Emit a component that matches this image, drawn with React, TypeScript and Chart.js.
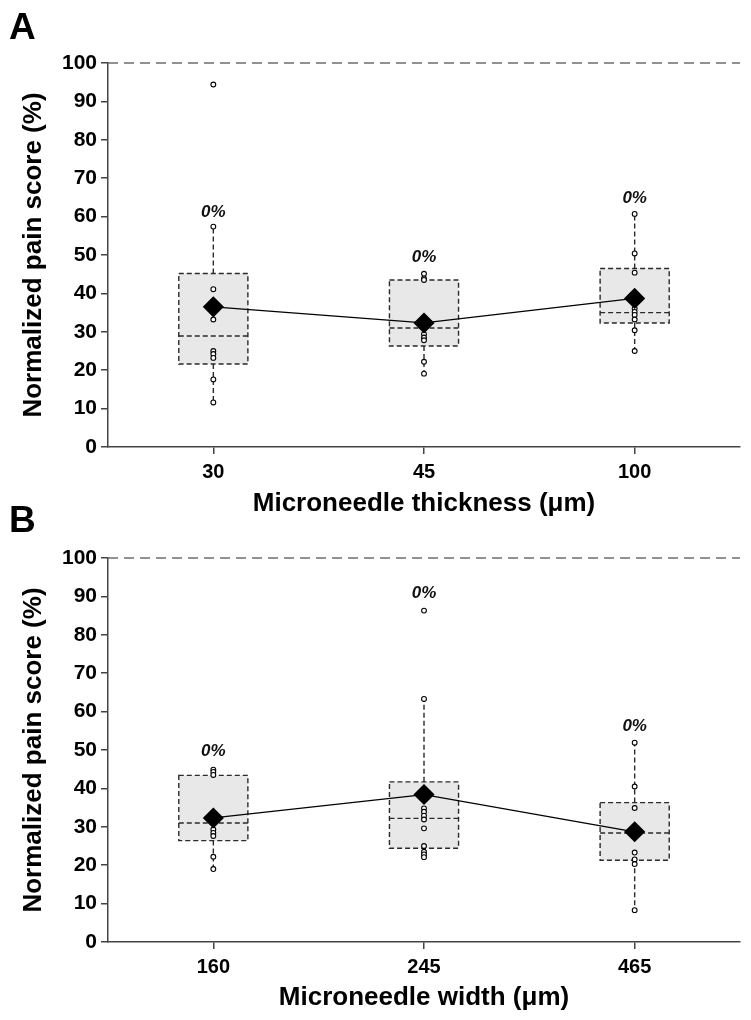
import React, { useEffect, useRef } from 'react';
import { Chart, registerables } from 'chart.js';

Chart.register(...registerables);

const FONT = "'Liberation Sans', Arial, Helvetica, sans-serif";

// ---------- Panel A: microneedle thickness ----------
const thicknessCategories = ['30', '45', '100'];
const thicknessQ1 = [21.6, 26.3, 32.3];
const thicknessMedian = [28.9, 31.0, 35.0];
const thicknessQ3 = [45.2, 43.5, 46.5];
const thicknessWhiskerLow = [11.6, 19.1, 25.0];
const thicknessWhiskerHigh = [57.4, 45.1, 60.7];
const thicknessMean = [36.5, 32.3, 38.7];
const thicknessPoints30 = [94.4, 57.4, 41.1, 33.2, 25.0, 24.2, 23.2, 17.6, 11.6];
const thicknessPoints45 = [45.1, 43.9, 43.5, 29.4, 28.5, 27.8, 22.2, 19.1];
const thicknessPoints100 = [60.7, 50.4, 45.4, 36.1, 35.2, 34.4, 33.2, 30.4, 25.0];
const thicknessPercentText = ['0%', '0%', '0%'];
const thicknessPercentAt = [61.0, 49.4, 64.8];

// ---------- Panel B: microneedle width ----------
const widthCategories = ['160', '245', '465'];
const widthQ1 = [26.4, 24.4, 21.3];
const widthMedian = [31.0, 32.2, 28.4];
const widthQ3 = [43.4, 41.7, 36.3];
const widthWhiskerLow = [19.0, 22.1, 8.3];
const widthWhiskerHigh = [44.9, 63.3, 51.9];
const widthMean = [32.3, 38.4, 28.7];
const widthPoints160 = [44.9, 44.3, 43.5, 29.3, 28.4, 27.6, 22.2, 19.0];
const widthPoints245 = [86.3, 63.3, 34.8, 33.9, 32.9, 31.9, 29.6, 25.0, 23.5, 22.8, 22.1];
const widthPoints465 = [51.9, 40.5, 34.9, 23.3, 21.5, 20.3, 8.3];
const widthPercentText = ['0%', '0%', '0%'];
const widthPercentAt = [49.7, 90.9, 56.1];

const yTicksMin = 0;
const yTicksMax = 100;
const yTickStep = 10;
const referenceLineValue = 100;

type PanelProps = {
  categories: string[];
  q1: number[];
  median: number[];
  q3: number[];
  wLow: number[];
  wHigh: number[];
  mean: number[];
  points: number[][];
  pctText: string[];
  pctAt: number[];
  xTitle: string;
  height: number;
  top: number;
  padTop: number;
  xScaleHeight: number;
  titlePadBottom: number;
};

function Panel(p: PanelProps) {
  const ref = useRef<HTMLCanvasElement | null>(null);
  useEffect(() => {
    if (!ref.current) return;
    const boxPlugin = {
      id: 'boxes',
      beforeDatasetsDraw(chart: any) {
        const ctx = chart.ctx;
        const xs = chart.scales.x;
        const ys = chart.scales.y;
        const area = chart.chartArea;
        const band = (xs.right - xs.left) / p.categories.length;
        const half = band * 0.164;
        ctx.save();
        // reference dashed line
        ctx.setLineDash([10, 6]);
        ctx.strokeStyle = '#6e6e6e';
        ctx.lineWidth = 1.5;
        const yr = ys.getPixelForValue(referenceLineValue);
        ctx.beginPath();
        ctx.moveTo(area.left, yr);
        ctx.lineTo(area.right, yr);
        ctx.stroke();
        for (let i = 0; i < p.categories.length; i++) {
          const cx = xs.getPixelForValue(i);
          const top = ys.getPixelForValue(p.q3[i]);
          const bot = ys.getPixelForValue(p.q1[i]);
          const med = ys.getPixelForValue(p.median[i]);
          const hi = ys.getPixelForValue(p.wHigh[i]);
          const lo = ys.getPixelForValue(p.wLow[i]);
          ctx.setLineDash([]);
          ctx.fillStyle = '#e8e8e8';
          ctx.fillRect(cx - half, top, 2 * half, bot - top);
          ctx.setLineDash([5, 3]);
          ctx.strokeStyle = '#2a2a2a';
          ctx.lineWidth = 1.4;
          ctx.strokeRect(cx - half, top, 2 * half, bot - top);
          ctx.beginPath();
          ctx.moveTo(cx - half, med);
          ctx.lineTo(cx + half, med);
          ctx.moveTo(cx, top);
          ctx.lineTo(cx, hi);
          ctx.moveTo(cx, bot);
          ctx.lineTo(cx, lo);
          ctx.stroke();
        }
        ctx.restore();
      },
      afterDatasetsDraw(chart: any) {
        const ctx = chart.ctx;
        const xs = chart.scales.x;
        const ys = chart.scales.y;
        ctx.save();
        ctx.font = `italic bold 17px ${FONT}`;
        ctx.fillStyle = '#111';
        ctx.textAlign = 'center';
        ctx.textBaseline = 'middle';
        for (let i = 0; i < p.categories.length; i++) {
          ctx.fillText(p.pctText[i], xs.getPixelForValue(i), ys.getPixelForValue(p.pctAt[i]));
        }
        ctx.restore();
      },
    };

    const scatter: { x: string; y: number }[] = [];
    p.points.forEach((arr, i) => arr.forEach((v) => scatter.push({ x: p.categories[i], y: v })));

    const chart = new Chart(ref.current, {
      type: 'line',
      data: {
        labels: p.categories,
        datasets: [
          {
            label: 'Mean',
            data: p.mean,
            borderColor: '#000',
            borderWidth: 1.2,
            pointStyle: 'rectRot',
            pointRadius: 9.5,
            pointBackgroundColor: '#000',
            pointBorderColor: '#000',
            pointBorderWidth: 1.5,
            tension: 0,
            order: 0,
          } as any,
          {
            label: 'Scores',
            data: scatter as any,
            showLine: false,
            pointStyle: 'circle',
            pointRadius: 2.4,
            pointBackgroundColor: '#fff',
            pointBorderColor: '#000',
            pointBorderWidth: 1.1,
            order: 1,
          } as any,
        ],
      },
      options: {
        animation: false,
        responsive: false,
        layout: { padding: { top: p.padTop, right: 10, left: 0, bottom: 0 } },
        plugins: { legend: { display: false }, tooltip: { enabled: false } },
        scales: {
          x: {
            type: 'category',
            offset: true,
            grid: {
              display: true,
              drawOnChartArea: false,
              drawTicks: true,
              tickLength: 7,
              color: '#444',
              lineWidth: 1.5,
              offset: false,
            },
            border: { display: true, color: '#444', width: 1.5 },
            ticks: { font: { family: FONT, size: 20, weight: 'bold' }, color: '#000', padding: 6 },
            title: {
              display: true,
              text: p.xTitle,
              font: { family: FONT, size: 26, weight: 'bold' },
              color: '#000',
              padding: { top: 0, bottom: p.titlePadBottom },
            },
            afterFit: (s: any) => {
              s.height = p.xScaleHeight;
            },
          } as any,
          y: {
            min: yTicksMin,
            max: yTicksMax,
            ticks: {
              stepSize: yTickStep,
              font: { family: FONT, size: 21, weight: 'bold' },
              color: '#000',
              padding: 4,
            },
            grid: {
              display: true,
              drawOnChartArea: false,
              drawTicks: true,
              tickLength: 7,
              color: '#444',
              lineWidth: 1.5,
            },
            border: { display: true, color: '#444', width: 1.5 },
            title: {
              display: true,
              text: 'Normalized pain score (%)',
              font: { family: FONT, size: 26, weight: 'bold' },
              color: '#000',
              padding: { top: 18, bottom: 0 },
            },
            afterFit: (s: any) => {
              s.width = 108;
            },
          } as any,
        },
      },
      plugins: [boxPlugin as any],
    });
    return () => chart.destroy();
  }, []);
  return (
    <canvas
      ref={ref}
      width={751}
      height={p.height}
      style={{ position: 'absolute', left: 0, top: p.top, width: 751, height: p.height, display: 'block' }}
    />
  );
}

const letterStyle: React.CSSProperties = {
  position: 'absolute',
  left: 9,
  fontFamily: FONT,
  fontWeight: 'bold',
  fontSize: 37,
  lineHeight: '37px',
  color: '#000',
};

export default function App() {
  return (
    <div style={{ position: 'absolute', left: 0, top: 0, width: 751, height: 1020, background: '#fff', overflow: 'hidden' }}>
      <Panel
        categories={thicknessCategories}
        q1={thicknessQ1}
        median={thicknessMedian}
        q3={thicknessQ3}
        wLow={thicknessWhiskerLow}
        wHigh={thicknessWhiskerHigh}
        mean={thicknessMean}
        points={[thicknessPoints30, thicknessPoints45, thicknessPoints100]}
        pctText={thicknessPercentText}
        pctAt={thicknessPercentAt}
        xTitle="Microneedle thickness (μm)"
        height={521}
        top={0}
        padTop={63}
        xScaleHeight={74}
        titlePadBottom={2}
      />
      <Panel
        categories={widthCategories}
        q1={widthQ1}
        median={widthMedian}
        q3={widthQ3}
        wLow={widthWhiskerLow}
        wHigh={widthWhiskerHigh}
        mean={widthMean}
        points={[widthPoints160, widthPoints245, widthPoints465]}
        pctText={widthPercentText}
        pctAt={widthPercentAt}
        xTitle="Microneedle width (μm)"
        height={499}
        top={521}
        padTop={37}
        xScaleHeight={78}
        titlePadBottom={7}
      />
      <div style={{ ...letterStyle, top: 8 }}>A</div>
      <div style={{ ...letterStyle, top: 501 }}>B</div>
    </div>
  );
}
